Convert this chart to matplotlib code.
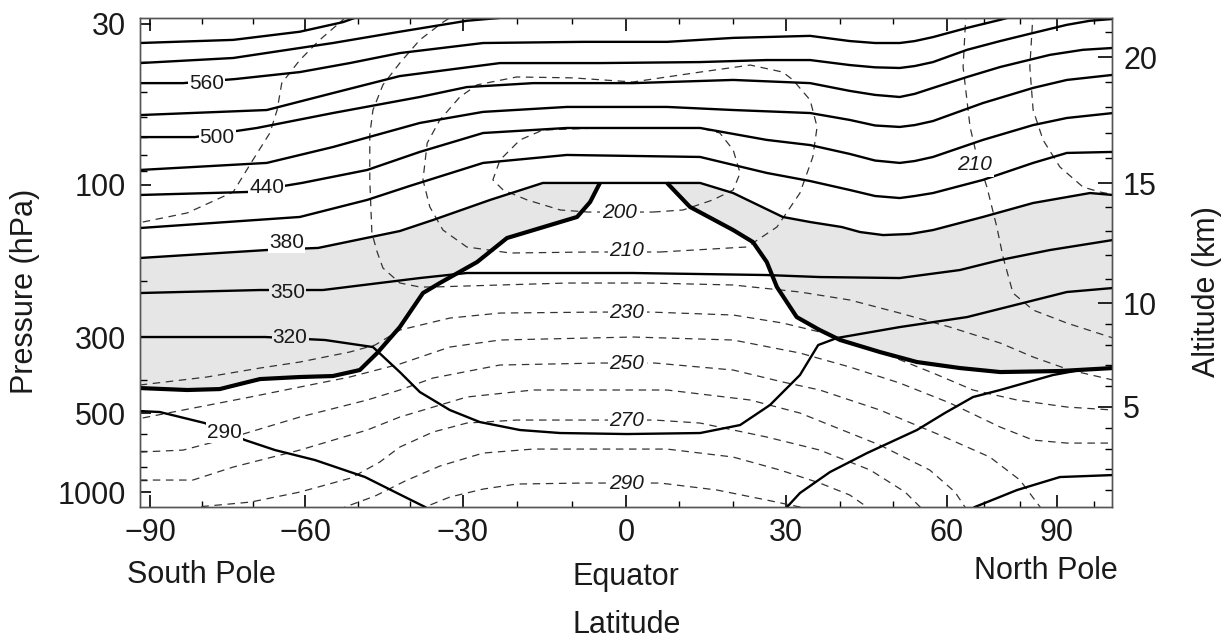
import numpy as np
import matplotlib.pyplot as plt

plt.rcParams['font.family'] = ['Liberation Sans', 'DejaVu Sans']

# axis calibration of the printed figure: tick value -> place along the axis
lat_ticks = [-90, -60, -30, 0, 30, 60, 90]
lat_pos = [150, 305, 463, 626, 786, 947, 1057]
p_ticks = [30, 100, 300, 500, 1000]
p_pos = [24, 185, 337, 413, 492]
z_ticks = [5, 10, 15, 20]
z_pos = [407, 303, 183, 57]

# potential temperature (K), solid lines: latitude / pressure (hPa)
th620_lat = [-92, -73.9, -61, -52.8, -49.6]
th620_p = [34.6, 33.8, 31.8, 29.6, 28.3]
th590_lat = [-92, -73.9, -54.7, -42, -29.3, -19.5]
th590_p = [40.2, 38.7, 34.6, 31.8, 29.3, 28.3]
th560_lat = [-92, -83.6, -73.5, -61, -51.5, -42, -26.3, -7.9, 7.7, 20.1, 34.5, 41.9, 46.6, 51.2, 54.0,
             57.4, 65.5, 74.5, 82.6]
th560_p = [46.7, 46.7, 45.3, 43.0, 40.2, 37.3, 34.6, 34.3, 34.3, 33.3, 32.8, 34.1, 34.6, 34.6, 34.1,
           33.1, 30.9, 29.1, 27.4]
th530_lat = [-92, -67.4, -54.7, -42, -23.2, -4.8, 13.9, 26.4, 34.5, 41.9, 46.6, 51.2, 54.0, 57.4, 65.5,
             74.5, 83.5, 92.7, 99, 105.3]
th530_p = [59.3, 57.1, 50.3, 44.3, 40.2, 40.2, 39.9, 39.3, 39.3, 40.8, 41.5, 41.7, 41.1, 39.9, 36.4,
           34.1, 32.1, 30.2, 29.3, 28.9]
th500_lat = [-92, -81.3, -69.3, -54.7, -38.2, -29.3, -17.1, 1.3, 20.1, 34.5, 41.9, 46.6, 51.2, 54.0,
             57.4, 65.5, 74.5, 88.1, 97.1, 105.3]
th500_p = [69.9, 69.9, 65.3, 58.4, 51.8, 48.1, 46.7, 46.7, 45.6, 46.7, 49.5, 51.0, 51.8, 50.6,
           48.4, 44.6, 41.4, 37.8, 36.4, 35.9]
th470_lat = [-92, -67.4, -54.7, -38.2, -26.3, -10.9, 7.7, 20.1, 34.5, 41.9, 46.6, 51.2, 54.0, 57.4,
             69.8, 83.5, 92.7, 105.3]
th470_p = [89.4, 84.8, 75.3, 62.9, 57.9, 55.8, 55.8, 57.1, 58.4, 61.5, 64.1, 64.8, 63.9, 62.0,
           54.2, 48.4, 45.6, 43.9]
th440_lat = [-92, -71.2, -60.6, -48.2, -38.2, -26.3, -10.9, 13.9, 26.4, 34.5, 41.9, 46.6, 51.2, 54.0,
             57.4, 69.8, 83.5, 92.7, 105.3]
th440_p = [107.5, 105.2, 98.5, 89.4, 78.1, 67.8, 65.3, 65.3, 71.4, 74.2, 79.3, 83.3, 84.8, 83.6,
           81.1, 71.4, 63.9, 60.6, 58.4]
th410_lat = [-92, -61, -48.2, -40.1, -26.3, -10.9, 13.9, 26.4, 34.5, 41.9, 46.6, 51.2, 54.0, 57.4,
             69.8, 83.5, 92.7, 105.3]
th410_p = [136.5, 126.0, 111.4, 100.7, 84.8, 79.9, 81.1, 91.4, 97.1, 103.7, 108.3, 109.9, 108.3, 106.0,
           96.3, 84.8, 78.7, 78.1]
th380_lat = [-92, -67.4, -57.5, -42, -35.7, -25, -15.3, 13.9, 20.1, 29.4, 34.5, 40.4, 43.8, 48.1, 53.1,
             57.4, 69.8, 83.5, 99, 105.3]
th380_p = [169.5, 160.0, 157.6, 139.5, 128.8, 111.4, 98.5, 98.5, 106.0, 126.0, 130.7, 135.5, 140.5, 143.6,
           142.5, 138.5, 126.0, 113.9, 106.0, 107.5]
th350_lat = [-92, -68.7, -56.6, -38.2, -29.3, 1.3, 26.4, 36.3, 51.2, 63.5, 74.5, 88.1, 105.3]
th350_p = [218.3, 213.6, 213.6, 195.9, 188.9, 188.9, 191.7, 194.5, 195.9, 184.9, 172.0, 160.0, 148.8]
th320_lat = [-92, -67.7, -56.2, -47.1, -42, -38.2, -32.5, -26.9, -19.5, -12.1, 0.2, 13.9, 21.4,
             27.0, 32.6, 36.0, 39.5, 51.2, 65.5, 92.7, 105.3]
th320_p = [300, 300, 306.1, 320.9, 379.6, 434.1, 490.0, 541.1, 580.3, 595.8, 601.1, 595.8, 555.5,
           473.8, 387.3, 316.6, 302.0, 279.2, 259.7, 216.7, 210.5]
th290s_lat = [-92, -88.1, -79.4, -71.6, -65.8, -58.1, -48.6, -42.9, -37.2, -35.9]
th290s_p = [493.3, 496.6, 545.9, 633.8, 691.9, 755.2, 876.5, 1000, 1140, 1190]
th290n_lat = [29.2, 30.2, 32.6, 38.2, 45.1, 54.4, 59.6, 67.1, 74.5, 88.9, 96.3, 105.3]
th290n_p = [1190, 1140, 1008.7, 839.0, 710.3, 580.3, 500, 449.0, 428.3, 387.3, 374.5, 369.5]
th260n_lat = [65.7, 67.6, 79.1, 90.8, 105.3]
th260n_p = [1190, 1140, 982.5, 876.5, 861.3]

# tropopause (thick line)
trop_s_lat = [-92, -82.8, -76.5, -72.6, -68.7, -61.0, -54.7, -49.6, -46.3, -42.0, -37.6, -34.4, -27.4,
              -21.9, -9.0, -6.6, -4.8]
trop_s_p = [422.7, 428.3, 425.6, 411.4, 397.9, 392.5, 389.9, 374.5, 334.1, 279.2, 218.3, 203.1, 174.5,
            146.7, 126.0, 113.1, 98.5]
trop_n_lat = [7.7, 12.0, 20.1, 23.8, 26.4, 28.3, 32.0, 36.3, 40.1, 47.5, 54.4, 63.5, 74.5, 90.8, 105.3]
trop_n_p = [98.5, 117.2, 138.5, 151.0, 174.5, 209.0, 259.7, 285.3, 306.1, 331.8, 354.9, 369.5, 379.6, 377.0, 369.5]

# temperature (K), dashed lines
tsp_lat = [-91.4, -82.8, -73.9, -70.1, -66.8, -65.4, -64.5, -61.0, -57.2, -52.8, -51.5]
tsp_p = [130.7, 122.4, 105.2, 83.0, 67.8, 57.1, 46.7, 39.3, 33.8, 29.1, 27.4]
t220_lat = [-30.6, -33.8, -38.2, -42.0, -45.2, -47.1, -47.7, -47.7, -47.3, -46.3, -45.2, -42.0, -38.2,
            -35.7, -23.2, -10.9, 4.5, 20.1, 32.6, 41.9, 51.2, 60.8, 74.5, 83.5, 93.5, 105.3]
t220_p = [27.4, 29.6, 33.8, 40.2, 47.3, 57.1, 68.8, 96.3, 141.5, 162.3, 182.2, 203.0, 209.0,
          209.0, 206.0, 203.1, 203.1, 206.0, 216.7, 229.6, 252.3, 279.2, 312.3, 343.1, 374.5, 400.5]
t210_lat = [6.4, 22.7, 28.3, 32.6, 35.0, 35.8, 34.5, 31.3, 29.4, 23.3, 13.9, 1.3, -9.8, -20.1, -27.4,
            -30.6, -34.4, -36.8, -37.6, -36.3, -33.8, -29.3, -21.3, -6.6, 6.4]
t210_p = [162.3, 156.5, 135.5, 106.0, 81.1, 64.8, 53.0, 45.6, 43.0, 40.8, 43.0, 46.3, 44.9, 44.6, 47.3,
          51.8, 61.5, 73.1, 96.3, 117.2, 138.5, 156.5, 163.5, 162.3, 162.3]
t200_lat = [5.1, 10.7, 16.3, 20.1, 21.4, 20.1, 17.6, 13.9, -4.8, -15.3, -19.5, -23.2, -24.5, -22.6,
            -18.2, -12.1, -7.0, 5.1]
t200_p = [121.6, 119.8, 111.4, 103.7, 91.4, 77.0, 67.8, 65.3, 65.3, 66.3, 71.4, 83.0, 96.3, 103.7,
          111.4, 119.8, 121.6, 121.6]
t210n_lat = [65.2, 64.4, 66.3, 68.2, 70.9, 73.6, 75.3, 78.0, 83.5, 92.7, 105.3]
t210n_p = [27.4, 41.4, 64.8, 81.1, 101.5, 135.5, 168.3, 218.3, 246.9, 271.2, 302.0]
tnp_lat = [83.5, 82.6, 83.5, 86.2, 90.8, 97.1, 101.7, 104.5]
tnp_p = [27.4, 41.4, 57.1, 71.4, 87.4, 101.5, 105.2, 106.7]
t230_lat = [-92, -79.0, -68.7, -61.0, -51.5, -46.7, -42.0, -32.5, -23.2, -4.8, 4.5, 20.1, 29.4, 36.3,
            48.1, 57.4, 67.1, 79.1, 92.7, 105.3]
t230_p = [414.2, 392.5, 369.5, 354.9, 331.8, 316.6, 285.3, 261.6, 252.3, 250.5, 250.5, 255.9, 271.2,
          289.3, 334.1, 382.1, 428.3, 458.1, 480.2, 490.0]
t240_lat = [-91.4, -83.6, -70.6, -61.0, -51.5, -42.0, -32.5, -23.2, 1.3, 20.1, 32.6, 41.9, 51.2, 60.8,
            74.5, 83.5, 92.7, 105.3]
t240_p = [522, 490.0, 449.0, 419.8, 392.5, 359.7, 320.9, 306.1, 300, 306.1, 334.1, 367.0, 408.7, 467.4,
          565.3, 633.8, 650.7, 650.7]
t250_lat = [-92, -83.6, -73.9, -61.0, -48.2, -42.0, -35.7, -23.2, -4.8, 5.4, 20.1, 29.4, 36.3, 47.5,
            58.7, 71.7, 79.9, 85.4, 86.7]
t250_p = [704.1, 691.9, 617.1, 517.8, 458.1, 428.3, 395.2, 362.1, 357.3, 357.3, 374.5, 405.9, 428.3,
          490.0, 606.5, 735.6, 900.0, 1140, 1191]
t260_lat = [-92, -81.7, -73.9, -61.0, -48.2, -42.0, -29.3, -17.1, 7.7, 23.3, 32.6, 47.5, 56.8, 62.2,
            64.9, 65.7]
t260_p = [900.0, 900.0, 803.0, 691.9, 580.3, 517.8, 449.0, 428.3, 428.3, 458.1, 500, 662.2, 824.4,
          1000, 1140, 1191]
t270_lat = [-82.3, -80.9, -70.5, -61.0, -51.3, -45.8, -42.0, -35.7, -29.3, -20.1, 5.4, 13.9, 26.4,
            36.3, 45.7, 52.2, 55.0, 55.5]
t270_p = [1191, 1140, 1091.5, 1000, 884.3, 768.5, 673.9, 590.6, 545.9, 531.7, 531.7, 545.9, 617.1,
          691.9, 824.4, 1000, 1140, 1191]
t280_lat = [-53.4, -52.4, -46.7, -41.0, -34.4, -26.3, -17.1, 7.7, 20.1, 28.9, 36.3, 41.9, 45.1, 46.0]
t280_p = [1191, 1140, 1035.6, 907.8, 796.0, 710.3, 685.8, 685.8, 735.6, 824.4, 923.9, 1026.6, 1140, 1191]
t290_lat = [-38.2, -37.2, -32.5, -26.3, -20.1, -7.9, 6.4, 17.1, 26.4, 32.6, 33.5]
t290_p = [1191, 1140, 1044.7, 974.2, 932.0, 923.9, 923.9, 982.5, 1072.6, 1140, 1191]

# contour labels
theta_lab = ['560', '500', '440', '380', '350', '320', '290']
theta_lab_lat = [-79.0, -77.0, -67.4, -63.5, -63.3, -62.9, -75.5]
theta_lab_p = [46.7, 69.9, 102.2, 151.8, 216.7, 300, 590.6]
temp_lab = ['200', '210', '230', '250', '270', '290', '210']
temp_lab_lat = [-1.1, 0.2, 0.2, 0.2, 0.2, 0.2, 67.6]
temp_lab_p = [121.6, 160.0, 250.5, 357.3, 531.7, 923.9, 86.1]


def pwl(v, xs, ys):
    v = np.asarray(v, dtype=float)
    xs = np.asarray(xs, dtype=float)
    ys = np.asarray(ys, dtype=float)
    out = np.interp(v, xs, ys)
    s0 = (ys[1] - ys[0]) / (xs[1] - xs[0])
    s1 = (ys[-1] - ys[-2]) / (xs[-1] - xs[-2])
    out = np.where(v < xs[0], ys[0] + (v - xs[0]) * s0, out)
    out = np.where(v > xs[-1], ys[-1] + (v - xs[-1]) * s1, out)
    return out


lp = np.log10(p_ticks)
zp = -np.array(z_pos, dtype=float)

shade = '#e6e6e6'
ink = '#1a1a1a'

fig = plt.figure(figsize=(12.28, 6.43), dpi=100)
ax = fig.add_axes([0.1140, 0.2115, 0.7915, 0.7605])
ax.set_xscale('function', functions=(lambda v: pwl(v, lat_ticks, lat_pos),
                                     lambda v: pwl(v, lat_pos, lat_ticks)))
ax.set_yscale('function', functions=(lambda v: pwl(np.log10(np.clip(v, 1e-3, None)), lp, p_pos),
                                     lambda v: 10 ** pwl(v, p_pos, lp)))

# lowermost stratosphere: between the tropopause and the 380 K surface
ax.fill(th380_lat + trop_n_lat[::-1] + trop_s_lat[::-1],
        th380_p + trop_n_p[::-1] + trop_s_p[::-1], color=shade, lw=0, zorder=0)

for la, pp in [(tsp_lat, tsp_p), (t220_lat, t220_p), (t210_lat, t210_p), (t200_lat, t200_p),
               (t210n_lat, t210n_p), (tnp_lat, tnp_p), (t230_lat, t230_p), (t240_lat, t240_p),
               (t250_lat, t250_p), (t260_lat, t260_p), (t270_lat, t270_p), (t280_lat, t280_p),
               (t290_lat, t290_p)]:
    ax.plot(la, pp, color='#333333', lw=0.9, ls=(0, (6, 4.5)), zorder=2)

for la, pp in [(th620_lat, th620_p), (th590_lat, th590_p), (th560_lat, th560_p), (th530_lat, th530_p),
               (th500_lat, th500_p), (th470_lat, th470_p), (th440_lat, th440_p), (th410_lat, th410_p),
               (th380_lat, th380_p), (th350_lat, th350_p), (th320_lat, th320_p), (th290s_lat, th290s_p),
               (th290n_lat, th290n_p), (th260n_lat, th260n_p)]:
    ax.plot(la, pp, color='k', lw=1.7, zorder=3, solid_joinstyle='round')

ax.plot(trop_s_lat, trop_s_p, color='k', lw=3.0, zorder=4, solid_capstyle='butt', solid_joinstyle='round')
ax.plot(trop_n_lat, trop_n_p, color='k', lw=3.0, zorder=4, solid_capstyle='butt', solid_joinstyle='round')

for s, la, pp in zip(theta_lab, theta_lab_lat, theta_lab_p):
    bg = shade if s in ('350', '320') else 'white'
    ax.text(la, pp, s, fontsize=15, color=ink, ha='center', va='center', zorder=5,
            bbox=dict(fc=bg, ec='none', pad=0.8))
for s, la, pp in zip(temp_lab, temp_lab_lat, temp_lab_p):
    ax.text(la, pp, s, fontsize=15, color=ink, style='italic', ha='center', va='center', zorder=5,
            bbox=dict(fc='white', ec='none', pad=1.5))

ax.set_xlim(-91.94, 105.0)
ax.set_ylim(1140, 28.7)
ax.set_xticks(lat_ticks, labels=[str(v).replace('-', '\u2212') for v in lat_ticks])
ax.set_xticks([-80, -70, -50, -40, -20, -10, 10, 20, 40, 50, 70, 80, 100], minor=True)
ax.set_yticks(p_ticks, labels=[str(v) for v in p_ticks])
ax.set_yticks([40, 50, 60, 70, 80, 90, 200, 400, 600, 700, 800, 900], minor=True)
ax.yaxis.set_minor_formatter(plt.NullFormatter())
ax.xaxis.set_minor_formatter(plt.NullFormatter())
ax.tick_params(which='both', direction='in', top=True, right=False, color='k', labelcolor=ink)
ax.tick_params(axis='x', which='major', length=9, width=1.2, pad=8, labelsize=22)
ax.tick_params(axis='x', which='minor', length=4, width=1)
ax.tick_params(axis='y', which='major', length=8, width=1.2, pad=10, labelsize=22)
ax.tick_params(axis='y', which='minor', length=5, width=1)

ax2 = ax.twinx()
ax2.set_yscale('function', functions=(lambda v: pwl(v, z_ticks, zp), lambda v: pwl(v, zp, z_ticks)))
ax2.set_ylim(0.19, 21.55)
ax2.set_yticks(z_ticks, labels=[str(v) for v in z_ticks])
ax2.set_yticks([v for v in range(1, 22) if v % 5], minor=True)
ax2.yaxis.set_minor_formatter(plt.NullFormatter())
ax2.tick_params(axis='y', which='both', direction='in', color='k', labelcolor=ink)
ax2.tick_params(axis='y', which='major', length=10, width=1.2, pad=8, labelsize=22)
ax2.tick_params(axis='y', which='minor', length=5, width=1)

for a in (ax, ax2):
    for sp in a.spines.values():
        sp.set_color('#555555')
        sp.set_linewidth(1.0)

fig.text(0.1034, 0.106, 'South Pole', fontsize=22, color=ink, ha='left', va='center')
fig.text(0.5098, 0.102, 'Equator', fontsize=22, color=ink, ha='center', va='center')
fig.text(0.9104, 0.112, 'North Pole', fontsize=22, color=ink, ha='right', va='center')
fig.text(0.5106, 0.028, 'Latitude', fontsize=22, color=ink, ha='center', va='center')
fig.text(0.020, 0.547, 'Pressure (hPa)', fontsize=22, color=ink, rotation=90, ha='center', va='center')
fig.text(0.983, 0.547, 'Altitude (km)', fontsize=22, color=ink, rotation=90, ha='center', va='center')

fig.savefig('out.png', dpi=100)
